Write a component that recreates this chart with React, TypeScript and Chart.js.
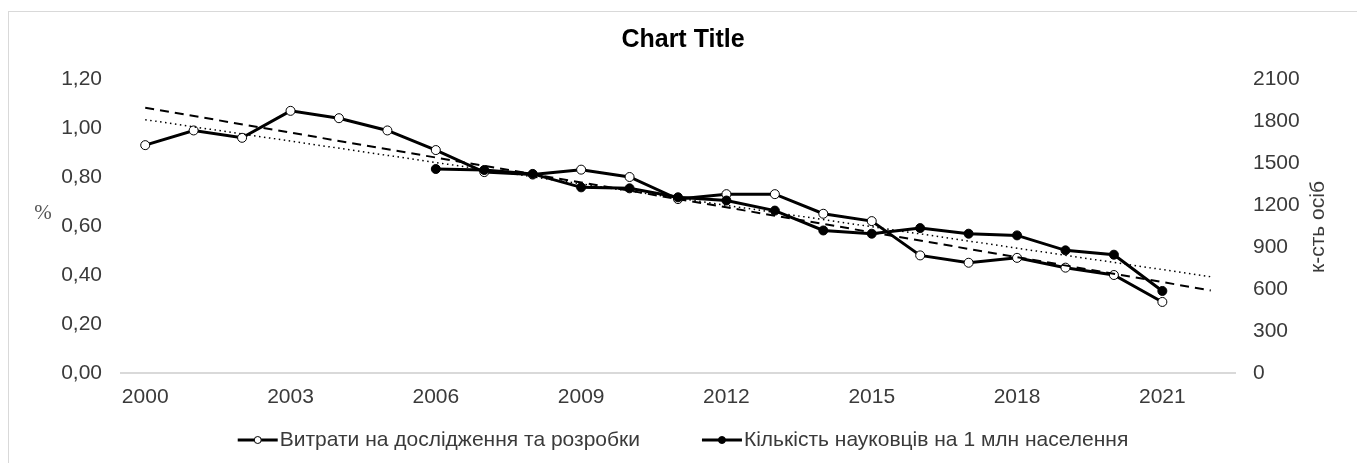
import React, { useEffect, useRef } from "react";
import { Chart, registerables } from "chart.js";

Chart.register(...registerables);

// ---- data ----
const years = [
  "2000", "2001", "2002", "2003", "2004", "2005", "2006", "2007", "2008", "2009", "2010", "2011",
  "2012", "2013", "2014", "2015", "2016", "2017", "2018", "2019", "2020", "2021", "2022",
];

const expenditureLabel = "Витрати на дослідження та розробки";
const researchersLabel = "Кількість науковців на 1 млн населення";

// % of GDP (left axis)
const rdExpenditure = [
  0.93, 0.99, 0.96, 1.07, 1.04, 0.99, 0.91, 0.82, 0.81, 0.83, 0.80, 0.71,
  0.73, 0.73, 0.65, 0.62, 0.48, 0.45, 0.47, 0.43, 0.40, 0.29, null,
];

// persons per 1 mln population (right axis)
const researchers = [
  null, null, null, null, null, null, 1457, 1450, 1422, 1326, 1319, 1255,
  1232, 1160, 1018, 995, 1035, 995, 983, 876, 845, 586, null,
];

// linear trend lines, end points (2000 and 2022)
const expenditureTrend = [
  1.034, null, null, null, null, null, null, null, null, null, null, null,
  null, null, null, null, null, null, null, null, null, null, 0.393,
];
const researchersTrend = [
  1895, null, null, null, null, null, null, null, null, null, null, null,
  null, null, null, null, null, null, null, null, null, null, 590,
];

const chartTitle = "Chart Title";
const leftAxisTitle = "%";
const rightAxisTitle = "к-сть осіб";

const FONT = '"Liberation Sans", Arial, sans-serif';
const TEXT = "#3a3a3a";

const extrasPlugin = {
  id: "extras",
  afterDraw(chart: any) {
    const { ctx, chartArea } = chart;
    const yMid = (chartArea.top + chartArea.bottom) / 2;
    ctx.save();
    // left axis title (upright)
    ctx.fillStyle = "#555";
    ctx.font = '21px "Liberation Serif", "Times New Roman", serif';
    ctx.textAlign = "center";
    ctx.textBaseline = "middle";
    ctx.fillText(leftAxisTitle, 34, yMid - 13);

    // right axis title (reads bottom to top)
    ctx.fillStyle = TEXT;
    ctx.font = `21px ${FONT}`;
    ctx.translate(chart.width - 39, yMid + 1);
    ctx.rotate(-Math.PI / 2);
    ctx.fillText(rightAxisTitle, 0, 0);
    ctx.restore();

    // legend
    ctx.save();
    const ds = chart.data.datasets;
    const items = [ds[3], ds[2]];
    ctx.font = `21px ${FONT}`;
    const markerW = 40;
    const gapText = 2;
    const gapItems = 62;
    const widths = items.map((d: any) => ctx.measureText(d.label).width);
    const total =
      widths.reduce((a: number, w: number) => a + markerW + gapText + w, 0) +
      gapItems * (items.length - 1);
    let x = chart.width / 2 - total / 2;
    const y = chartArea.bottom + 67;
    items.forEach((d: any, i: number) => {
      ctx.strokeStyle = d.borderColor;
      ctx.lineWidth = 3;
      ctx.beginPath();
      ctx.moveTo(x, y);
      ctx.lineTo(x + markerW, y);
      ctx.stroke();
      ctx.beginPath();
      ctx.arc(x + markerW / 2, y, 3.5, 0, Math.PI * 2);
      ctx.fillStyle = d.pointBackgroundColor;
      ctx.fill();
      ctx.lineWidth = 1;
      ctx.strokeStyle = d.pointBorderColor;
      ctx.stroke();
      ctx.fillStyle = TEXT;
      ctx.textAlign = "left";
      ctx.textBaseline = "middle";
      ctx.fillText(d.label, x + markerW + gapText, y);
      x += markerW + gapText + widths[i] + gapItems;
    });
    ctx.restore();
  },
};

export default function App() {
  const ref = useRef<HTMLCanvasElement>(null);

  useEffect(() => {
    if (!ref.current) return;
    const chart = new Chart(ref.current, {
      type: "line",
      data: {
        labels: years,
        datasets: [
          {
            label: "trend-researchers",
            data: researchersTrend,
            yAxisID: "y1",
            borderColor: "#000",
            borderWidth: 2,
            borderDash: [9, 6],
            pointRadius: 0,
            spanGaps: true,
            fill: false,
          },
          {
            label: "trend-expenditure",
            data: expenditureTrend,
            yAxisID: "y",
            borderColor: "#000",
            borderWidth: 1.5,
            borderDash: [1.5, 3.5],
            pointRadius: 0,
            spanGaps: true,
            fill: false,
          },
          {
            label: researchersLabel,
            data: researchers,
            yAxisID: "y1",
            borderColor: "#000",
            borderWidth: 3,
            pointRadius: 4.5,
            pointBackgroundColor: "#000",
            pointBorderColor: "#000",
            pointBorderWidth: 1,
            fill: false,
          },
          {
            label: expenditureLabel,
            data: rdExpenditure,
            yAxisID: "y",
            borderColor: "#000",
            borderWidth: 3,
            pointRadius: 4.5,
            pointBackgroundColor: "#fff",
            pointBorderColor: "#000",
            pointBorderWidth: 1,
            fill: false,
          },
        ] as any,
      },
      options: {
        responsive: false,
        animation: false,
        layout: { padding: { left: 0, right: 0, top: 0, bottom: 40 } },
        plugins: {
          legend: { display: false },
          tooltip: { enabled: false },
          title: {
            display: true,
            text: chartTitle,
            color: "#000",
            font: { family: FONT, size: 25, weight: "bold" },
            padding: { top: 13, bottom: 24 },
          },
        },
        scales: {
          x: {
            type: "category",
            offset: true,
            grid: { display: false, drawTicks: false },
            border: { display: true, color: "#d9d9d9", width: 2 },
            ticks: {
              autoSkip: false,
              maxRotation: 0,
              minRotation: 0,
              padding: 12,
              color: TEXT,
              font: { family: FONT, size: 21 },
              callback: (_v: any, i: number) => (i % 3 === 0 ? years[i] : ""),
            },
            afterFit: (s: any) => {
              s.height = 50;
            },
          },
          y: {
            position: "left",
            min: 0,
            max: 1.2,
            grid: { display: false, drawTicks: false },
            border: { display: false },
            ticks: {
              stepSize: 0.2,
              padding: 19,
              color: TEXT,
              font: { family: FONT, size: 21 },
              callback: (v: any) => Number(v).toFixed(2).replace(".", ","),
            },
            afterFit: (s: any) => {
              s.width = 112;
            },
          },
          y1: {
            position: "right",
            min: 0,
            max: 2100,
            grid: { display: false, drawTicks: false },
            border: { display: false },
            ticks: {
              stepSize: 300,
              padding: 18,
              color: TEXT,
              font: { family: FONT, size: 21 },
              callback: (v: any) => String(Math.round(Number(v))),
            },
            afterFit: (s: any) => {
              s.width = 122;
            },
          },
        } as any,
      },
      plugins: [extrasPlugin],
    });
    return () => chart.destroy();
  }, []);

  return (
    <div
      style={{
        position: "fixed",
        left: 8,
        top: 11,
        width: 1349,
        height: 452,
        borderTop: "1px solid #d9d9d9",
        borderLeft: "1px solid #d9d9d9",
        background: "#fff",
      }}
    >
      <canvas ref={ref} width={1348} height={451} style={{ display: "block" }} />
    </div>
  );
}
